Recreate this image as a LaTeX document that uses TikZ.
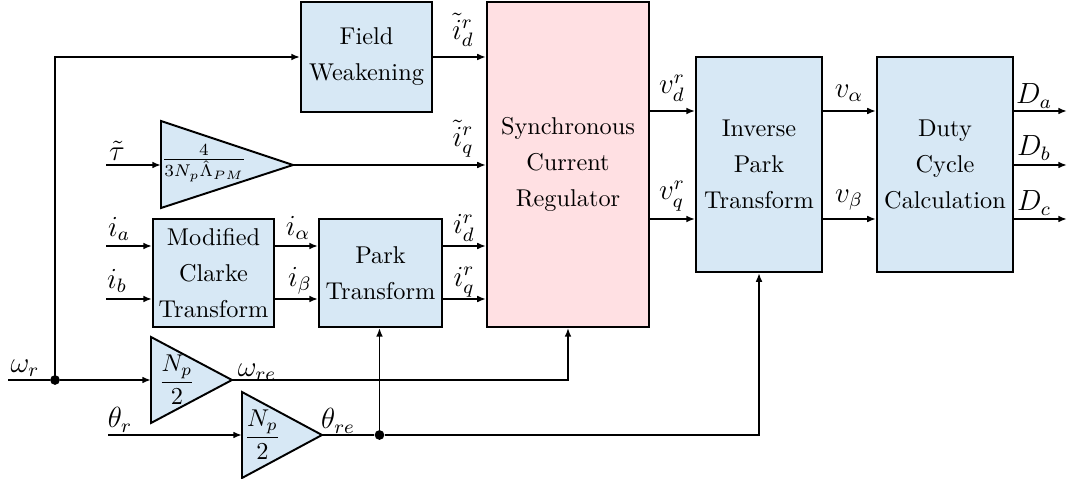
\documentclass[tikz,border=0pt]{standalone}
\usetikzlibrary{arrows.meta}
\definecolor{boxblue}{RGB}{215,232,245}
\definecolor{boxpink}{RGB}{255,224,227}
\begin{document}
\begin{tikzpicture}[x=0.4115pt,y=-0.4115pt,
  blk/.style={draw,line width=0.8pt,fill=boxblue,align=center,inner sep=0.5pt,
    font={\fontsize{10pt}{14.8pt}\selectfont}},
  gainshape/.style={draw,line width=0.8pt,fill=boxblue,line join=miter},
  wire/.style={line width=0.8pt},
  arr/.style={wire,-{Latex[length=3.6pt,width=2.8pt]}},
  lbl/.style={inner sep=0pt,font=\large},
  dot/.style={circle,fill=black,inner sep=0pt,minimum size=4pt}]
\useasboundingbox (0,0) rectangle (1070,479);
% blocks
\node[blk,minimum width=53.9pt,minimum height=45.3pt] (fw) at (366.5,57) {Field\\Weakening};
\node[blk,fill=boxpink,minimum width=66.7pt,minimum height=133.7pt] (scr) at (568,164.5) {Synchronous\\Current\\Regulator};
\node[blk,minimum width=49.8pt,minimum height=44.4pt] (clarke) at (213.5,273) {Modified\\Clarke\\Transform};
\node[blk,minimum width=50.6pt,minimum height=44.4pt] (park) at (380.5,273) {Park\\Transform};
\node[blk,minimum width=51.8pt,minimum height=88.5pt] (ipark) at (759,164.5) {Inverse\\Park\\Transform};
\node[blk,minimum width=56pt,minimum height=88.5pt] (duty) at (945,164.5) {Duty\\Cycle\\Calculation};
% gains
\draw[gainshape] (161,121) -- (293,165) -- (161,208) -- cycle;
\coordinate (gtin) at (161,165); \coordinate (gtout) at (293,165);
\node[inner sep=0pt] (gtt) at (204,163) {$\frac{4}{3N_p\hat{\Lambda}_{PM}}$};
\draw[gainshape] (151,337) -- (232,380) -- (151,423) -- cycle;
\coordinate (gwin) at (151,380); \coordinate (gwout) at (232,380);
\node[inner sep=0pt] (gwt) at (177,380) {$\displaystyle\frac{N_p}{2}$};
\draw[gainshape] (242,392) -- (322,435) -- (242,478) -- cycle;
\coordinate (gqin) at (242,435); \coordinate (gqout) at (322,435);
\node[inner sep=0pt] (gqt) at (262.5,435) {$\displaystyle\frac{N_p}{2}$};
% free ends and junctions
\coordinate (wrin) at (8,380);
\node[dot] (dw) at (55,380) {};
\coordinate (tauin) at (106,165);
\coordinate (iain) at (106,246);
\coordinate (ibin) at (106,299);
\coordinate (thin) at (108,435);
\node[dot] (dth) at (379.5,435) {};
\coordinate (da) at (1067,111);
\coordinate (db) at (1067,165);
\coordinate (dc) at (1067,219);
% wires
\draw[wire] (wrin) -- (dw);
\draw[arr] (dw) -- (gwin);
\draw[arr] (dw.center) |- (fw.west);
\draw[arr] (fw.east) -- (fw.east -| scr.west);
\draw[arr] (tauin) -- (gtin);
\draw[arr] (gtout) -- (gtout -| scr.west);
\draw[arr] (iain) -- (iain -| clarke.west);
\draw[arr] (ibin) -- (ibin -| clarke.west);
\draw[arr] (iain -| clarke.east) -- (iain -| park.west);
\draw[arr] (ibin -| clarke.east) -- (ibin -| park.west);
\draw[arr] (iain -| park.east) -- (iain -| scr.west);
\draw[arr] (ibin -| park.east) -- (ibin -| scr.west);
\draw[arr] (gwout) -| (scr.south);
\draw[arr] (thin) -- (gqin);
\draw[wire] (gqout) -- (dth);
\draw[arr] (dth.center) -- (dth.center |- park.south);
\draw[arr] (dth) -| (ipark.south);
\draw[arr] (scr.east |- da) -- (ipark.west |- da);
\draw[arr] (scr.east |- dc) -- (ipark.west |- dc);
\draw[arr] (ipark.east |- da) -- (duty.west |- da);
\draw[arr] (ipark.east |- dc) -- (duty.west |- dc);
\draw[arr] (duty.east |- da) -- (da);
\draw[arr] (duty.east |- db) -- (db);
\draw[arr] (duty.east |- dc) -- (dc);
% labels
\node[lbl] (l1) at (463,30) {$\tilde{i}_d^r$};
\node[lbl] (l2) at (463,139) {$\tilde{i}_q^r$};
\node[lbl] (l3) at (117,151) {$\tilde{\tau}$};
\node[lbl] (l4) at (119,229) {$i_a$};
\node[lbl] (l5) at (117,281) {$i_b$};
\node[lbl] (l6) at (298,228) {$i_\alpha$};
\node[lbl] (l7) at (300,281) {$i_\beta$};
\node[lbl] (l8) at (464,228) {$i_d^r$};
\node[lbl] (l9) at (464,282) {$i_q^r$};
\node[lbl] (l10) at (25,368) {$\omega_r$};
\node[lbl] (l11) at (257,372) {$\omega_{re}$};
\node[lbl] (l12) at (120,420) {$\theta_r$};
\node[lbl] (l13) at (338,421) {$\theta_{re}$};
\node[lbl] (l14) at (672,88) {$v_d^r$};
\node[lbl] (l15) at (672,196) {$v_q^r$};
\node[lbl] (l16) at (849,93) {$v_\alpha$};
\node[lbl] (l17) at (849,200) {$v_\beta$};
\node[lbl] (l18) at (1034,96) {$D_a$};
\node[lbl] (l19) at (1034,148) {$D_b$};
\node[lbl] (l20) at (1034,203) {$D_c$};
\end{tikzpicture}
\end{document}
